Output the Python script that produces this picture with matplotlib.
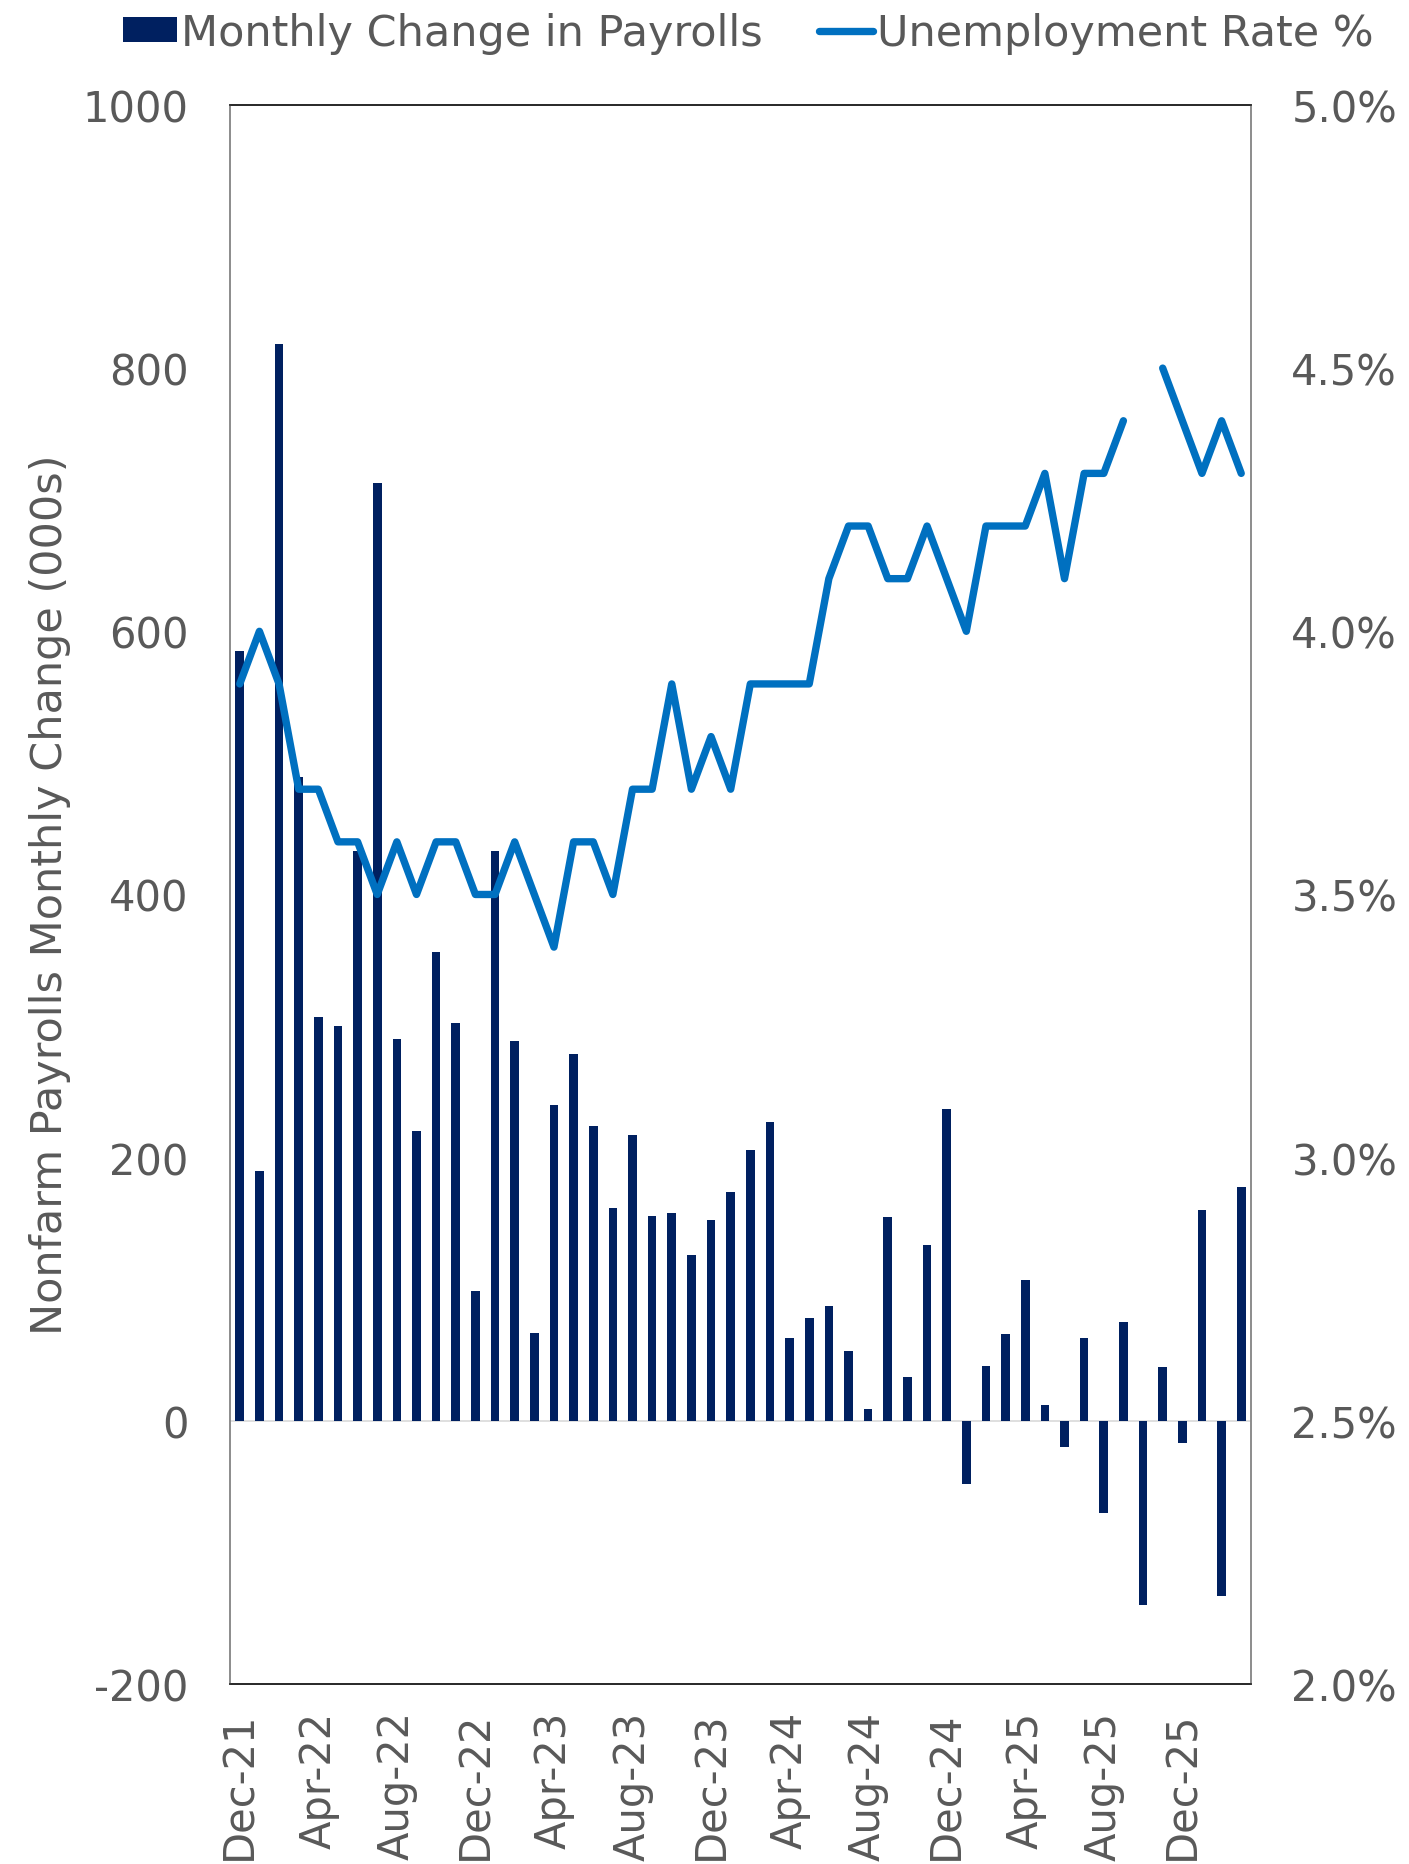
import numpy as np
import pandas as pd
import matplotlib
matplotlib.use("Agg")
import matplotlib.pyplot as plt
from matplotlib.patches import Patch
from matplotlib.lines import Line2D

# months Dec-21 .. Mar-26
months = pd.date_range("2021-12-01", "2026-03-01", freq="MS").strftime("%b-%y").tolist()

# nonfarm payrolls, monthly change (000s)
payrolls = [585, 190, 818, 489, 307, 300, 433, 713, 290, 220, 356, 302,
            99, 433, 289, 67, 240, 279, 224, 162, 217, 156, 158, 126,
            153, 174, 206, 227, 63, 78, 87, 53, 9, 155, 33, 134,
            237, -48, 42, 66, 107, 12, -20, 63, -70, 75, -140, 41,
            -17, 160, -133, 178]

# unemployment rate % (Oct-25 not published)
unemp = [3.9, 4.0, 3.9, 3.7, 3.7, 3.6, 3.6, 3.5, 3.6, 3.5, 3.6, 3.6,
         3.5, 3.5, 3.6, 3.5, 3.4, 3.6, 3.6, 3.5, 3.7, 3.7, 3.9, 3.7,
         3.8, 3.7, 3.9, 3.9, 3.9, 3.9, 4.1, 4.2, 4.2, 4.1, 4.1, 4.2,
         4.1, 4.0, 4.2, 4.2, 4.2, 4.3, 4.1, 4.3, 4.3, 4.4, np.nan, 4.5,
         4.4, 4.3, 4.4, 4.3]

navy = "#002060"
blue = "#0070C0"
grey = "#595959"

plt.rcParams["font.family"] = ["DejaVu Sans"]
plt.rcParams["font.size"] = 30
plt.rcParams["axes.unicode_minus"] = False

fig = plt.figure(figsize=(14.09, 18.65), dpi=100)
ax = fig.add_axes([0.1632, 0.0965, 0.7247, 0.8467])
ax2 = ax.twinx()

x = np.arange(len(months))
ax.bar(x, payrolls, width=0.44, color=navy, zorder=2)
ax.axhline(0, color="#d9d9d9", lw=1.2, zorder=1)
ax2.plot(x, unemp, color=blue, lw=5.3, solid_joinstyle="round", solid_capstyle="round")

ax.set_xlim(-0.5, len(months) - 0.5)
ax.set_ylim(-200, 1000)
ax.set_yticks(np.arange(-200, 1001, 200))
ax2.set_ylim(2.0, 5.0)
ax2.set_yticks(np.arange(2.0, 5.01, 0.5))
ax2.set_yticklabels([f"{v:.1f}%" for v in np.arange(2.0, 5.01, 0.5)])

ax.set_xticks(x[::4])
ax.set_xticklabels(months[::4], rotation=90, va="top", ha="center")

for a in (ax, ax2):
    a.tick_params(length=0, colors=grey, labelsize=30)
    for s in a.spines.values():
        s.set_linewidth(1.2)
        s.set_color("#8c8c8c")
    a.spines["top"].set_color("#262626")
    a.spines["bottom"].set_color("#262626")
ax.tick_params(axis="y", pad=30)
ax2.tick_params(axis="y", pad=29)
ax.tick_params(axis="x", pad=19)

fig.text(50 / 1409, 0.5 + (1865 / 2 - 895) / 1865, "Nonfarm Payrolls Monthly Change (000s)",
         rotation=90, ha="center", va="center", color=grey, fontsize=31)

handles = [Patch(facecolor=navy, edgecolor="none"),
           Line2D([], [], color=blue, lw=5.3, solid_capstyle="round")]
leg = fig.legend(handles, ["Monthly Change in Payrolls", "Unemployment Rate %"],
                 loc="center", bbox_to_anchor=(0.531, 0.982), ncol=2, frameon=False,
                 handlelength=1.25, handleheight=0.5, handletextpad=0.1,
                 columnspacing=1.3, fontsize=31)
for t in leg.get_texts():
    t.set_color(grey)

fig.savefig("out.png", dpi=100)
